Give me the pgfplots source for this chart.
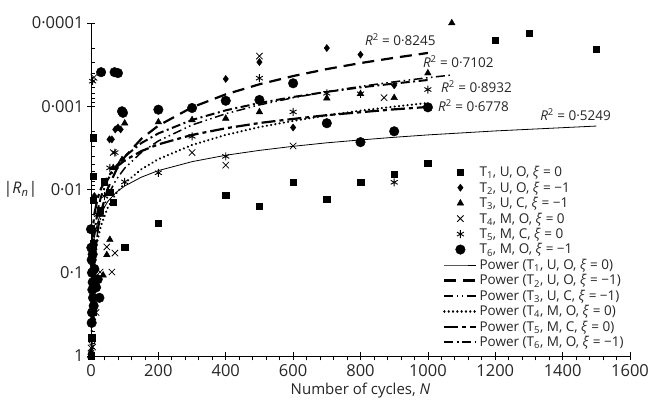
\documentclass[border=0pt]{standalone}
\usepackage{fontspec}
\setmainfont{Open Sans}
\usepackage{pgfplots}
\pgfplotsset{compat=1.18}
\begin{document}
\begin{tikzpicture}
\begin{axis}[
  scale only axis, width=539pt, height=333pt,
  xmin=0, xmax=1600, ymode=log, ymin=1e-4, ymax=1, y dir=reverse,
  axis x line*=bottom, axis y line*=left,
  axis line style={line width=0.8pt},
  xtick={0,200,400,600,800,1000,1200,1400,1600},
  xticklabels={0,200,400,600,800,1000,1200,1400,1600},
  minor x tick num=4,
  ytick={1e-4,1e-3,1e-2,1e-1,1},
  yticklabels={0·0001,0·001,0·01,0·1,1},
  tick align=center, major tick length=8pt, minor tick length=4.5pt,
  minor x tick style={yshift=-2.2pt},
  minor y tick style={xshift=2.2pt},
  tick style={black, line width=0.7pt},
  tick label style={font=\fontsize{16.5}{18}\selectfont, text=black!85},
  xticklabel style={yshift=-1pt},
  xlabel={Number of cycles, \textit{N}},
  xlabel style={font=\fontsize{15}{18}\selectfont, text=black!85},
  ylabel={|\textit{R}\textsubscript{\textit{n}}|},
  every axis y label/.style={at={(axis description cs:-0.093,0.5)}, anchor=east, font=\fontsize{16}{18}\selectfont, text=black!85},
  legend style={draw=none, fill=none, at={(axis description cs:0.6475,0.582)}, anchor=north west,
    font=\fontsize{13.5}{15}\selectfont, text=black!85, row sep=-0.3pt},
  legend cell align=left,
  legend image code/.code={\draw[mark repeat=2,mark phase=2,#1] plot coordinates {(0pt,0pt) (16pt,0pt) (32pt,0pt)};},
  clip=true,
]
\coordinate (O) at (axis cs:0,1);
% T1 squares
\addplot[only marks, mark=square*, mark size=3.2pt, black] coordinates {
(6,0.0024)(6,0.0069)(39,0.0081)(56,0.0107)(6,0.0134)(27,0.0176)(66,0.0141)(6,0.044)(3,0.15)(5,0.3)(2,0.6)(0,1)
(100,0.049)(200,0.0252)(400,0.0117)(500,0.0158)(600,0.0082)(700,0.0130)(800,0.0082)(900,0.0065)(1000,0.0048)
(1200,0.00016)(1300,0.000132)(1500,0.000205)};
\addlegendentry{T\textsubscript{1}, U, O, \textit{ξ} = 0}
% T2 diamonds
\addplot[only marks, mark=diamond*, mark size=3.6pt, black] coordinates {
(55,0.0025)(62,0.0025)(72,0.0019)(80,0.0018)(88,0.0019)(2,0.03)(4,0.08)(3,0.25)(0,0.9)(10,0.012)
(400,0.00047)(500,0.000295)(600,0.0018)(700,0.0002)(800,0.00024)(900,0.00056)};
\addlegendentry{T\textsubscript{2}, U, O, \textit{ξ} = −1}
% T3 triangles
\addplot[only marks, mark=triangle*, mark size=3.8pt, black] coordinates {
(0,1)(5,0.35)(10,0.2)(36,0.107)(47,0.061)(56,0.04)(30,0.02)(66,0.0055)(92,0.0044)
(100,0.0016)(200,0.00155)(300,0.00146)(400,0.0014)(500,0.00117)(700,0.0008)(800,0.00071)(900,0.00079)(1000,0.0004)(1071,0.0001)};
\addlegendentry{T\textsubscript{3}, U, C, \textit{ξ} = −1}
% T4 crosses
\addplot[only marks, mark=x, mark size=4.5pt, black, mark options={line width=0.8pt}] coordinates {
(0,0.8)(3,0.64)(5,0.78)(9,0.00045)(27,0.098)(47,0.049)(62,0.098)(71,0.058)(66,0.0036)(15,0.3)
(300,0.0036)(400,0.0051)(500,0.00025)(600,0.003)(870,0.00079)};
\addlegendentry{T\textsubscript{4}, M, O, \textit{ξ} = 0}
% T5 stars
\addplot[only marks, mark=asterisk, mark size=4pt, black, mark options={line width=0.9pt}] coordinates {
(5,0.0005)(71,0.0036)(56,0.0055)(100,0.0081)(0,1)(5,0.2)(10,0.03)(20,0.02)(40,0.012)
(200,0.0063)(300,0.0023)(400,0.004)(500,0.00046)(600,0.00117)(700,0.0007)(800,0.00071)(900,0.0082)(1000,0.00063)};
\addlegendentry{T\textsubscript{5}, M, C, \textit{ξ} = 0}
% T6 circles
\addplot[only marks, mark=*, mark size=4.8pt, black] coordinates {
(30,0.00039)(70,0.00039)(80,0.0004)(92,0.00115)(95,0.0012)
(1,0.05)(2,0.07)(3,0.1)(5,0.13)(4,0.16)(6,0.2)(8,0.25)(3,0.3)(2,0.4)(15,0.15)(20,0.12)(25,0.2)(10,0.09)(0,0.03)(5,0.06)
(200,0.0011)(300,0.00105)(400,0.00086)(500,0.00084)(600,0.00053)(700,0.0016)(800,0.0027)(900,0.002)(1000,0.00103)};
\addlegendentry{T\textsubscript{6}, M, O, \textit{ξ} = −1}
% Power fits
\addplot[black, line width=0.8pt] coordinates {
(1,0.153)(2,0.0998)(3,0.078)(5,0.057)(10,0.0372)(20,0.0244)(30,0.019)(50,0.0139)(75,0.0108)(100,0.00908)(150,0.0071)(200,0.00593)(300,0.00463)(400,0.00388)(500,0.00339)(600,0.00303)(700,0.00275)(800,0.00254)(900,0.00236)(1000,0.00221)(1200,0.00198)(1500,0.00173)};
\addlegendentry{Power (T\textsubscript{1}, U, O, \textit{ξ} = 0)}
\addplot[black, line width=2.2pt, dash pattern=on 12pt off 7pt] coordinates {
(1,1.29)(2,0.542)(3,0.327)(5,0.172)(10,0.0724)(20,0.0305)(30,0.0184)(50,0.00969)(75,0.00583)(100,0.00407)(150,0.00245)(200,0.00171)(300,0.00103)(400,0.00072)(500,0.000545)(600,0.000434)(700,0.000358)(800,0.000303)(900,0.000262)(1000,0.000229)};
\addlegendentry{Power (T\textsubscript{2}, U, O, \textit{ξ} = −1)}
\addplot[black, line width=1.5pt, dash pattern=on 9pt off 3.5pt on 1.5pt off 3.5pt on 1.5pt off 3.5pt] coordinates {
(1,0.828)(2,0.39)(3,0.251)(5,0.144)(10,0.0678)(20,0.0319)(30,0.0206)(50,0.0118)(75,0.00759)(100,0.00555)(150,0.00357)(200,0.00261)(300,0.00168)(400,0.00123)(500,0.000964)(600,0.000791)(700,0.000669)(800,0.000578)(900,0.000509)(1000,0.000454)(1070,0.000422)};
\addlegendentry{Power (T\textsubscript{3}, U, C, \textit{ξ} = −1)}
\addplot[black, line width=2.4pt, line cap=round, dash pattern=on 0.01pt off 4.3pt] coordinates {
(1,0.713)(2,0.366)(3,0.247)(5,0.151)(10,0.0774)(20,0.0397)(30,0.0269)(50,0.0164)(75,0.0111)(100,0.00841)(150,0.00569)(200,0.00432)(300,0.00292)(400,0.00221)(500,0.00178)(600,0.0015)(700,0.00129)(800,0.00113)(900,0.00101)(1000,0.000914)};
\addlegendentry{Power (T\textsubscript{4}, M, O, \textit{ξ} = 0)}
\addplot[black, line width=2.2pt, dash pattern=on 14pt off 4pt on 4pt off 4pt] coordinates {
(1,0.0861)(2,0.0552)(3,0.0426)(5,0.0306)(10,0.0196)(20,0.0126)(30,0.0097)(50,0.00698)(75,0.00538)(100,0.00448)(150,0.00345)(200,0.00287)(300,0.00221)(400,0.00184)(500,0.00159)(600,0.00142)(700,0.00128)(800,0.00118)(900,0.00109)(1000,0.00102)};
\addlegendentry{Power (T\textsubscript{5}, M, C, \textit{ξ} = 0)}
\addplot[black, line width=2pt, dash pattern=on 9pt off 3.5pt on 2pt off 3.5pt] coordinates {
(1,0.275)(2,0.146)(3,0.1)(5,0.0627)(10,0.0332)(20,0.0176)(30,0.0121)(50,0.00757)(75,0.00522)(100,0.00401)(150,0.00276)(200,0.00212)(300,0.00146)(400,0.00112)(500,0.000915)(600,0.000774)(700,0.000672)(800,0.000594)(900,0.000534)(1000,0.000484)};
\addlegendentry{Power (T\textsubscript{6}, M, O, \textit{ξ} = −1)}
\node[anchor=west, font=\fontsize{13.5}{15}\selectfont, text=black!85, inner sep=0pt] at (axis cs:813,1.6e-4) {\textit{R}\textsuperscript{2} = 0·8245};
\node[anchor=west, font=\fontsize{13.5}{15}\selectfont, text=black!85, inner sep=0pt] at (axis cs:985,2.94e-4) {\textit{R}\textsuperscript{2} = 0·7102};
\node[anchor=west, font=\fontsize{13.5}{15}\selectfont, text=black!85, inner sep=0pt] at (axis cs:1039,5.87e-4) {\textit{R}\textsuperscript{2} = 0·8932};
\node[anchor=west, font=\fontsize{13.5}{15}\selectfont, text=black!85, inner sep=0pt] at (axis cs:1030,9.93e-4) {\textit{R}\textsuperscript{2} = 0·6778};
\node[anchor=west, font=\fontsize{13.5}{15}\selectfont, text=black!85, inner sep=0pt] at (axis cs:1333,1.27e-3) {\textit{R}\textsuperscript{2} = 0·5249};
\end{axis}
\pgfresetboundingbox
\path[use as bounding box] (O) ++(-91pt,-58pt) rectangle ++(648pt,414pt);
\end{tikzpicture}
\end{document}
